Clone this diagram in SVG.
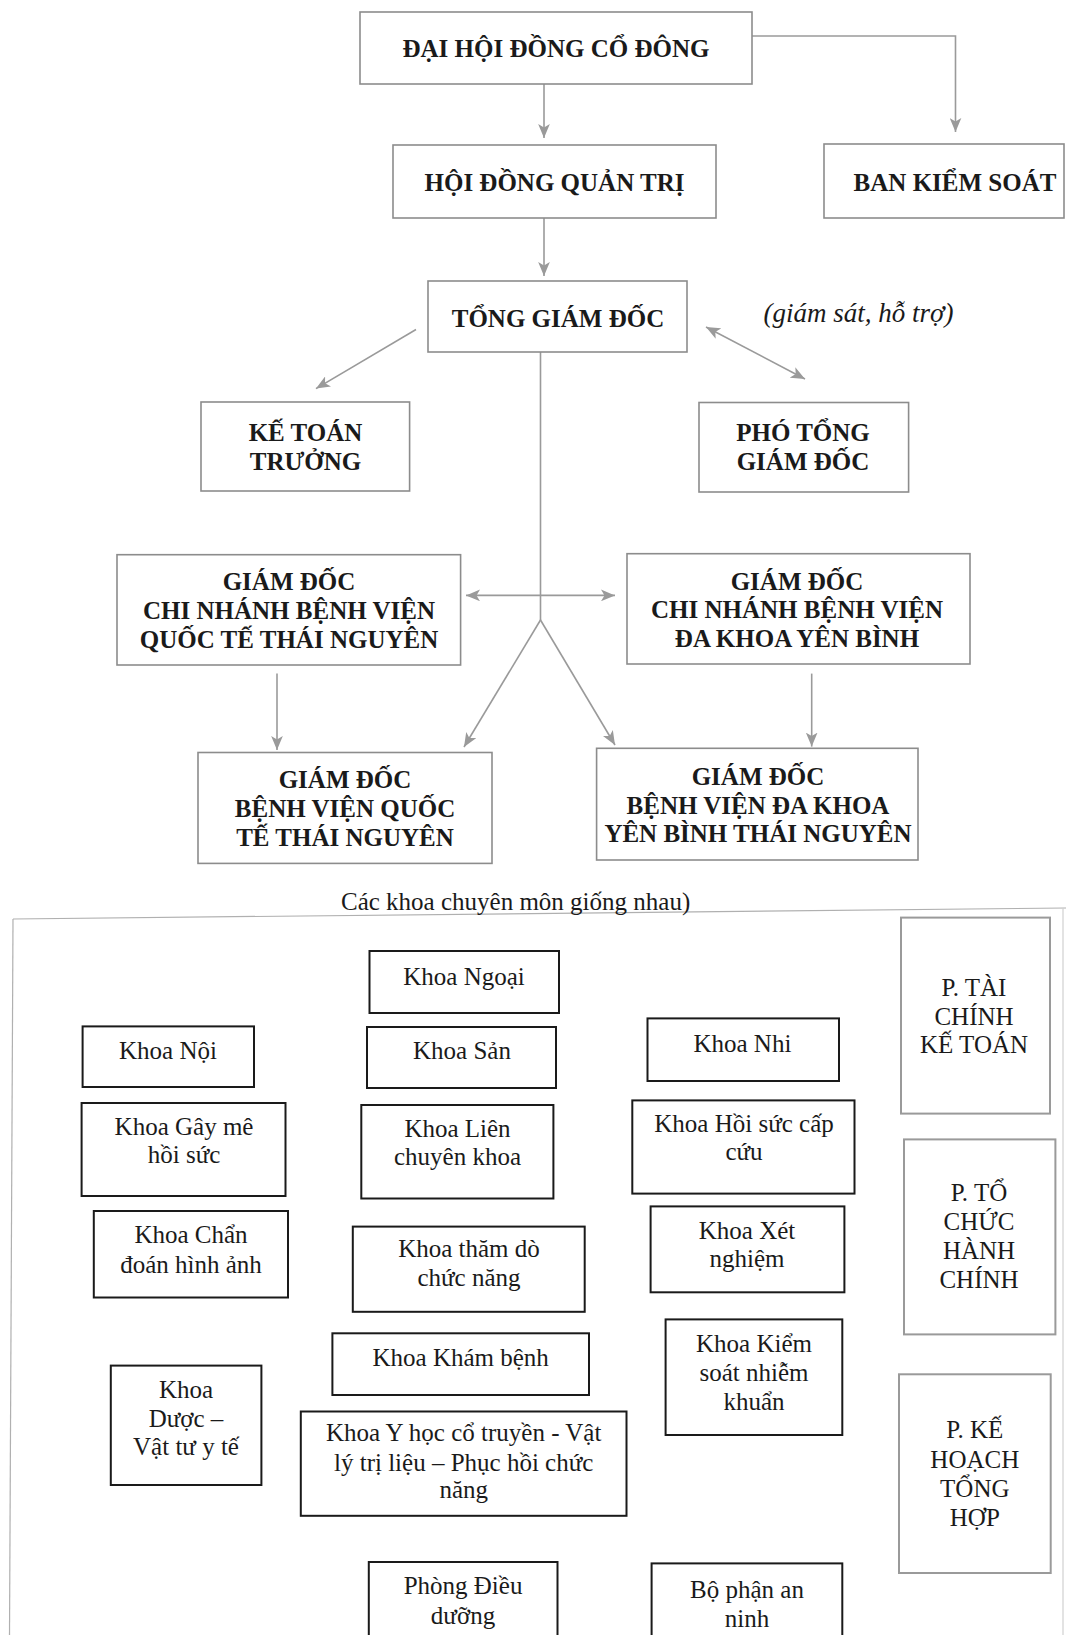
<svg xmlns="http://www.w3.org/2000/svg" width="1066" height="1635" viewBox="0 0 1066 1635">
<defs>
<style>
.tb{fill:#fff;stroke:#8c8c8c;stroke-width:1.6}
.bb{fill:#fff;stroke:#1a1a1a;stroke-width:2}
.gb{fill:#fff;stroke:#9a9a9a;stroke-width:2}
.tt{font-family:"Liberation Serif","Times New Roman",serif;font-weight:bold;font-size:25px;fill:#1a1a1a;text-anchor:middle}
.bt{font-family:"Liberation Serif","Times New Roman",serif;font-size:25px;fill:#1a1a1a;text-anchor:middle}
.it{font-family:"Liberation Serif","Times New Roman",serif;font-style:italic;font-size:27px;fill:#1a1a1a}
.cn{fill:none;stroke:#9a9a9a;stroke-width:1.6}
.fr{fill:none;stroke:#b0b0b0;stroke-width:1.2}
</style>
<marker id="ah" viewBox="0 0 12 10" refX="12" refY="5" markerWidth="14" markerHeight="12" markerUnits="userSpaceOnUse" orient="auto-start-reverse">
<path d="M0,0 L12,5 L0,10 L3,5 z" fill="#9a9a9a"/>
</marker>
</defs>
<rect width="1066" height="1635" fill="#fff"/>

<g id="frame">
<path class="fr" d="M13,919 L1066,908"/>
<path class="fr" d="M13,919 L9.5,1635"/>
<path class="fr" d="M1063,908 L1063,1635" style="stroke:#d0d0d0"/>
<text class="bt" x="341" y="910" style="text-anchor:start">Các khoa chuyên môn giống nhau)</text>
</g>

<g id="connectors">
<line class="cn" x1="544" y1="84" x2="544" y2="138" marker-end="url(#ah)"/>
<path class="cn" d="M752,36 H955.5 V132" marker-end="url(#ah)"/>
<line class="cn" x1="544" y1="218" x2="544" y2="276" marker-end="url(#ah)"/>
<line class="cn" x1="416" y1="329.5" x2="316" y2="388.6" marker-end="url(#ah)"/>
<line class="cn" x1="706" y1="327" x2="805" y2="379" marker-start="url(#ah)" marker-end="url(#ah)"/>
<line class="cn" x1="540.5" y1="352" x2="540.5" y2="620"/>
<line class="cn" x1="466" y1="595.4" x2="615" y2="595.4" marker-start="url(#ah)" marker-end="url(#ah)"/>
<line class="cn" x1="540.5" y1="620" x2="464" y2="747" marker-end="url(#ah)"/>
<line class="cn" x1="540.5" y1="620" x2="615" y2="745" marker-end="url(#ah)"/>
<line class="cn" x1="277" y1="673.6" x2="277" y2="750" marker-end="url(#ah)"/>
<line class="cn" x1="811.7" y1="673.6" x2="811.7" y2="746.6" marker-end="url(#ah)"/>
</g>

<g id="dhdcd"><rect class="tb" x="360" y="12" width="392" height="72"/><text class="tt" x="556" y="57">ĐẠI HỘI ĐỒNG CỔ ĐÔNG</text></g>
<g id="hdqt"><rect class="tb" x="393" y="145" width="323" height="73"/><text class="tt" x="554.5" y="191">HỘI ĐỒNG QUẢN TRỊ</text></g>
<g id="bks"><rect class="tb" x="824" y="144" width="240" height="74"/><text class="tt" x="955" y="191">BAN KIỂM SOÁT</text></g>
<g id="tgd"><rect class="tb" x="428" y="281" width="259" height="71"/><text class="tt" x="558" y="326.7">TỔNG GIÁM ĐỐC</text></g>
<g id="note"><text class="it" x="763.5" y="321.5">(giám sát, hỗ trợ)</text></g>
<g id="ktt"><rect class="tb" x="201" y="402" width="208.6" height="89"/><text class="tt" x="305.5" y="440.7">KẾ TOÁN</text><text class="tt" x="305.5" y="470">TRƯỞNG</text></g>
<g id="ptgd"><rect class="tb" x="699" y="402.5" width="209.6" height="89.5"/><text class="tt" x="803" y="440.7">PHÓ TỔNG</text><text class="tt" x="803" y="470">GIÁM ĐỐC</text></g>
<g id="cnqt"><rect class="tb" x="117" y="554.7" width="343.6" height="110.3"/><text class="tt" x="289" y="590">GIÁM ĐỐC</text><text class="tt" x="289" y="619">CHI NHÁNH BỆNH VIỆN</text><text class="tt" x="289" y="647.5">QUỐC TẾ THÁI NGUYÊN</text></g>
<g id="cnyb"><rect class="tb" x="627" y="553.7" width="343" height="110.3"/><text class="tt" x="797" y="589.5">GIÁM ĐỐC</text><text class="tt" x="797" y="618">CHI NHÁNH BỆNH VIỆN</text><text class="tt" x="797" y="646.5">ĐA KHOA YÊN BÌNH</text></g>
<g id="bvqt"><rect class="tb" x="198" y="752.5" width="294" height="110.9"/><text class="tt" x="345" y="788.3">GIÁM ĐỐC</text><text class="tt" x="345" y="817">BỆNH VIỆN QUỐC</text><text class="tt" x="345" y="845.7">TẾ THÁI NGUYÊN</text></g>
<g id="bvyb"><rect class="tb" x="596.6" y="748.3" width="321.4" height="111.7"/><text class="tt" x="758" y="784.8">GIÁM ĐỐC</text><text class="tt" x="758" y="813.7">BỆNH VIỆN ĐA KHOA</text><text class="tt" x="758" y="842.2">YÊN BÌNH THÁI NGUYÊN</text></g>

<g id="ngoai"><rect class="bb" x="369.5" y="951" width="189.5" height="62"/><text class="bt" x="464" y="985">Khoa Ngoại</text></g>
<g id="noi"><rect class="bb" x="82.6" y="1026.4" width="171.4" height="60.6"/><text class="bt" x="168" y="1059">Khoa Nội</text></g>
<g id="san"><rect class="bb" x="367" y="1027" width="189" height="61"/><text class="bt" x="462" y="1059">Khoa Sản</text></g>
<g id="nhi"><rect class="bb" x="647.5" y="1018.4" width="191.5" height="62.6"/><text class="bt" x="742.4" y="1052">Khoa Nhi</text></g>
<g id="ptc"><rect class="gb" x="901" y="917.6" width="149" height="196"/><text class="bt" x="974" y="995.8">P. TÀI</text><text class="bt" x="974" y="1024.7">CHÍNH</text><text class="bt" x="974" y="1053.2">KẾ TOÁN</text></g>
<g id="gayme"><rect class="bb" x="81.6" y="1103" width="203.9" height="93"/><text class="bt" x="184" y="1134.5">Khoa Gây mê</text><text class="bt" x="184" y="1163">hồi sức</text></g>
<g id="lien"><rect class="bb" x="361.3" y="1105" width="192.1" height="93.5"/><text class="bt" x="457.5" y="1137">Khoa Liên</text><text class="bt" x="457.5" y="1164.7">chuyên khoa</text></g>
<g id="hoisuc"><rect class="bb" x="632.3" y="1100.4" width="222.2" height="93.2"/><text class="bt" x="744" y="1132.4">Khoa Hồi sức cấp</text><text class="bt" x="744" y="1159.5">cứu</text></g>
<g id="chan"><rect class="bb" x="93.8" y="1211" width="194.2" height="86.5"/><text class="bt" x="191" y="1243">Khoa Chẩn</text><text class="bt" x="191" y="1273">đoán hình ảnh</text></g>
<g id="thamdo"><rect class="bb" x="352.8" y="1226.6" width="231.9" height="85.2"/><text class="bt" x="469" y="1256.8">Khoa thăm dò</text><text class="bt" x="469" y="1286.4">chức năng</text></g>
<g id="xetnghiem"><rect class="bb" x="650.6" y="1206.4" width="193.8" height="85.9"/><text class="bt" x="747" y="1238.8">Khoa Xét</text><text class="bt" x="747" y="1267.3">nghiệm</text></g>
<g id="tochuc"><rect class="gb" x="904" y="1139.4" width="151.4" height="195"/><text class="bt" x="979" y="1201.2">P. TỔ</text><text class="bt" x="979" y="1229.7">CHỨC</text><text class="bt" x="979" y="1258.6">HÀNH</text><text class="bt" x="979" y="1288">CHÍNH</text></g>
<g id="kham"><rect class="bb" x="332.4" y="1333.3" width="256.6" height="61.7"/><text class="bt" x="460.7" y="1366.3">Khoa Khám bệnh</text></g>
<g id="kiemsoat"><rect class="bb" x="665.6" y="1319.4" width="176.7" height="115.6"/><text class="bt" x="754" y="1352.4">Khoa Kiểm</text><text class="bt" x="754" y="1381">soát nhiễm</text><text class="bt" x="754" y="1409.8">khuẩn</text></g>
<g id="duoc"><rect class="bb" x="110.8" y="1365.6" width="150.6" height="119.4"/><text class="bt" x="186" y="1397.6">Khoa</text><text class="bt" x="186" y="1426.5">Dược –</text><text class="bt" x="186" y="1455">Vật tư y tế</text></g>
<g id="yhoc"><rect class="bb" x="300.8" y="1411.5" width="325.7" height="104.3"/><text class="bt" x="463.7" y="1441">Khoa Y học cổ truyền - Vật</text><text class="bt" x="463.7" y="1470.6">lý trị liệu – Phục hồi chức</text><text class="bt" x="463.7" y="1498.4">năng</text></g>
<g id="kehoach"><rect class="gb" x="899" y="1374.3" width="151.7" height="198.7"/><text class="bt" x="974.8" y="1438.3">P. KẾ</text><text class="bt" x="974.8" y="1467.8">HOẠCH</text><text class="bt" x="974.8" y="1496.7">TỔNG</text><text class="bt" x="974.8" y="1526.2">HỢP</text></g>
<g id="dieuduong"><rect class="bb" x="368.8" y="1562" width="188.7" height="80"/><text class="bt" x="463" y="1594">Phòng Điều</text><text class="bt" x="463" y="1623.5">dưỡng</text></g>
<g id="anninh"><rect class="bb" x="651.6" y="1563.4" width="190.7" height="80"/><text class="bt" x="747" y="1597.5">Bộ phận an</text><text class="bt" x="747" y="1627">ninh</text></g>
</svg>
